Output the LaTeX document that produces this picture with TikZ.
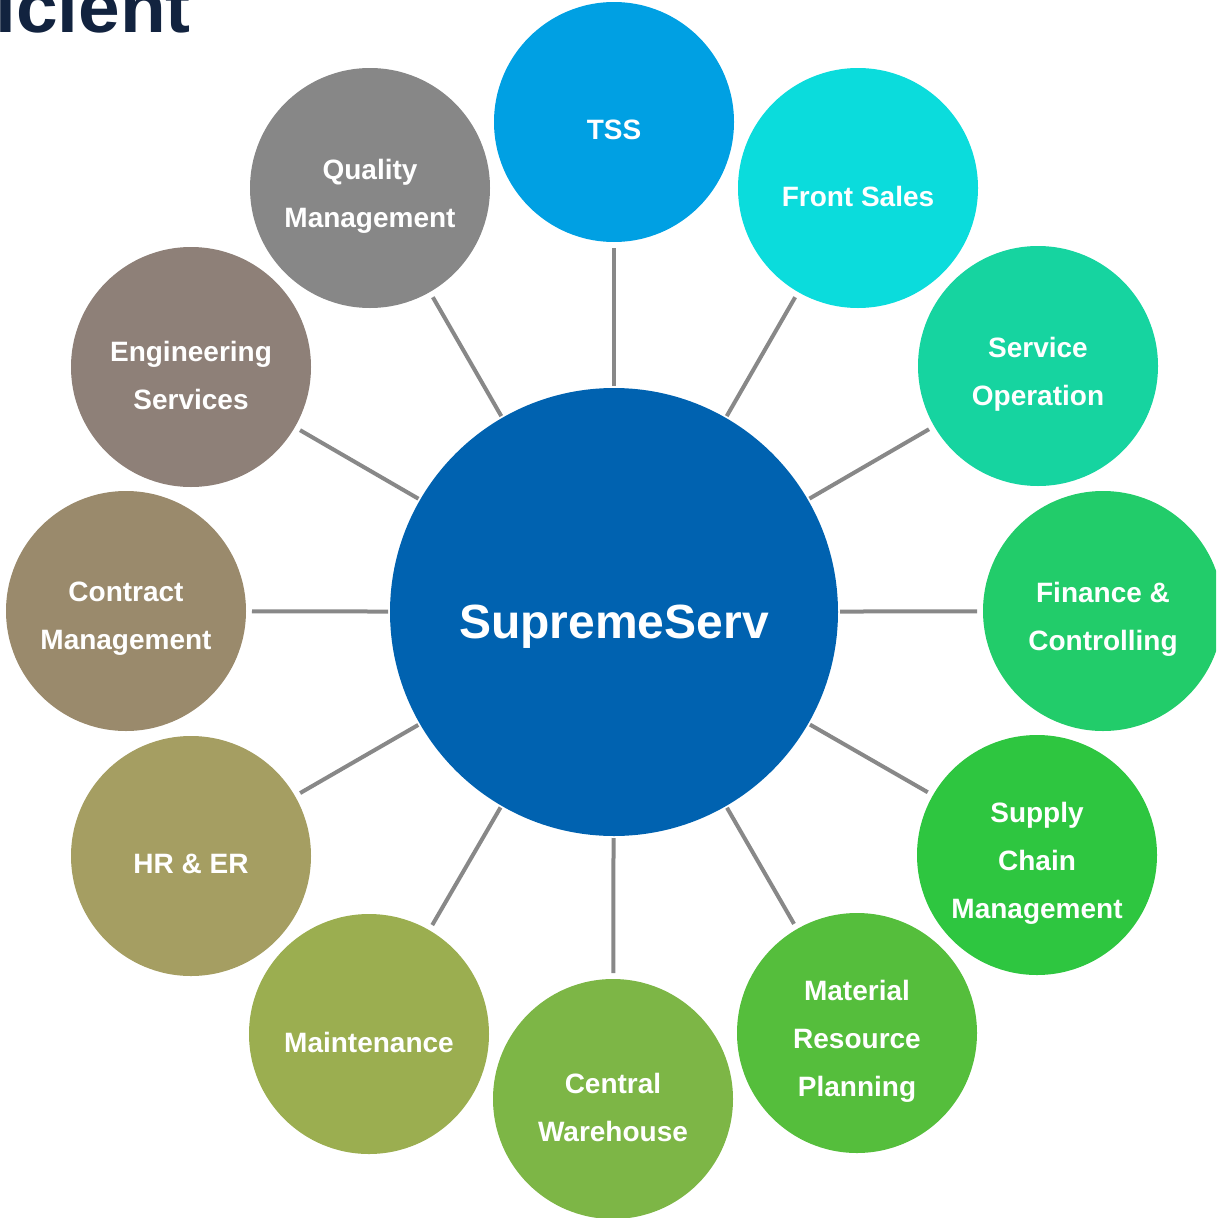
\documentclass[tikz,border=0pt]{standalone}
\usepackage{fontspec}
\setmainfont{Liberation Sans}
\definecolor{cCenter}{RGB}{0,98,176}
\definecolor{cTSS}{RGB}{0,160,227}
\definecolor{cFront}{RGB}{11,220,220}
\definecolor{cService}{RGB}{22,212,160}
\definecolor{cFinance}{RGB}{34,204,106}
\definecolor{cSupply}{RGB}{46,198,64}
\definecolor{cMaterial}{RGB}{85,190,60}
\definecolor{cCentral}{RGB}{125,182,70}
\definecolor{cMaint}{RGB}{155,174,80}
\definecolor{cHR}{RGB}{165,158,98}
\definecolor{cContract}{RGB}{154,138,108}
\definecolor{cEng}{RGB}{142,128,120}
\definecolor{cQuality}{RGB}{135,135,135}
\definecolor{cLine}{RGB}{136,136,136}
\definecolor{cNavy}{RGB}{18,35,63}
\tikzset{
  hub/.style={circle, fill=cCenter, minimum size=448pt, inner sep=0pt, outer sep=2pt},
  sat/.style={circle, minimum size=240pt, inner sep=0pt, outer sep=6pt},
  satlabel/.style={text=white, align=center, font=\fontsize{28}{48}\selectfont\bfseries, yshift=-8pt},
  hublabel/.style={text=white, font=\fontsize{48}{56}\selectfont\bfseries, yshift=-15pt},
  conn/.style={draw=cLine, line width=4pt}
}
\begin{document}
\begin{tikzpicture}[x=1pt,y=-1pt]
\useasboundingbox (0,0) rectangle (1216,1218);
\clip (0,0) rectangle (1216,1218);
\node[anchor=base east, text=cNavy, font=\fontsize{72}{72}\selectfont\bfseries, inner sep=0pt, xscale=1.04] (title) at (191,32) {icient};
% hub
\node[hub] (c) at (614,612) {};
\node[hublabel] (ct) at (c) {SupremeServ};
% satellites
\node[sat, fill=cTSS] (tss) at (614,122) {};
\node[sat, fill=cFront] (front) at (858,188) {};
\node[sat, fill=cService] (serv) at (1038,366) {};
\node[sat, fill=cFinance] (fin) at (1103,611) {};
\node[sat, fill=cSupply] (sup) at (1037,855) {};
\node[sat, fill=cMaterial] (mat) at (857,1033) {};
\node[sat, fill=cCentral] (cw) at (613,1099) {};
\node[sat, fill=cMaint] (mnt) at (369,1034) {};
\node[sat, fill=cHR] (hr) at (191,856) {};
\node[sat, fill=cContract] (con) at (126,611) {};
\node[sat, fill=cEng] (eng) at (191,367) {};
\node[sat, fill=cQuality] (qm) at (370,188) {};
% labels
\node[satlabel] (tsst) at (tss) {TSS};
\node[satlabel] (frontt) at (front) {Front Sales};
\node[satlabel] (servt) at (serv) {Service\\Operation};
\node[satlabel] (fint) at (fin) {Finance \&\\Controlling};
\node[satlabel] (supt) at (sup) {Supply\\Chain\\Management};
\node[satlabel] (matt) at (mat) {Material\\Resource\\Planning};
\node[satlabel] (cwt) at (cw) {Central\\Warehouse};
\node[satlabel] (mntt) at (mnt) {Maintenance};
\node[satlabel] (hrt) at (hr) {HR \& ER};
\node[satlabel] (cont) at (con) {Contract\\Management};
\node[satlabel] (engt) at (eng) {Engineering\\Services};
\node[satlabel] (qmt) at (qm) {Quality\\Management};
% connectors
\foreach \s in {tss,front,serv,fin,sup,mat,cw,mnt,hr,con,eng,qm}
  \draw[conn] (c) -- (\s);
\end{tikzpicture}
\end{document}
